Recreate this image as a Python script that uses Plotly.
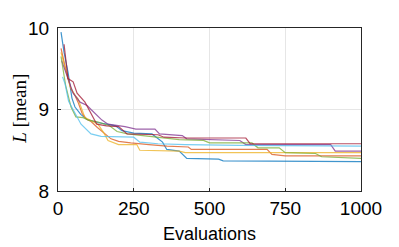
import plotly.graph_objects as go

# Best-so-far mean value per run (polyline vertices)
blue_x = [10, 20, 33, 46, 56, 75, 95, 130, 160, 190, 211, 250, 310, 326, 345, 359, 400, 425, 530, 545, 1000]
blue_y = [9.95, 9.70, 9.46, 9.14, 9.03, 8.94, 8.88, 8.84, 8.82, 8.80, 8.74, 8.71, 8.70, 8.65, 8.60, 8.51, 8.49, 8.40, 8.39, 8.37, 8.36]

orange_x = [10, 25, 43, 55, 66, 80, 95, 110, 130, 155, 175, 200, 240, 300, 360, 430, 440, 690, 706, 750, 1000]
orange_y = [9.75, 9.50, 9.25, 9.18, 9.09, 8.95, 8.88, 8.85, 8.78, 8.70, 8.64, 8.61, 8.59, 8.57, 8.55, 8.54, 8.51, 8.51, 8.45, 8.43, 8.43]

yellow_x = [10, 25, 40, 55, 66, 89, 110, 132, 150, 165, 200, 260, 270, 400, 420, 1000]
yellow_y = [9.70, 9.50, 9.28, 9.18, 9.13, 8.90, 8.86, 8.82, 8.72, 8.62, 8.57, 8.57, 8.50, 8.49, 8.47, 8.47]

purple_x = [12, 30, 50, 73, 96, 109, 122, 145, 165, 200, 221, 257, 320, 335, 410, 425, 600, 620, 900, 915, 1000]
purple_y = [9.60, 9.40, 9.20, 9.09, 9.05, 9.00, 8.95, 8.87, 8.82, 8.80, 8.79, 8.76, 8.76, 8.70, 8.68, 8.64, 8.62, 8.57, 8.57, 8.49, 8.49]

green_x = [10, 25, 43, 59, 83, 100, 130, 170, 195, 230, 280, 330, 400, 480, 500, 640, 660, 730, 750, 850, 870, 1000]
green_y = [9.65, 9.30, 9.03, 8.91, 8.90, 8.87, 8.85, 8.80, 8.73, 8.70, 8.68, 8.66, 8.63, 8.62, 8.59, 8.59, 8.53, 8.53, 8.47, 8.46, 8.42, 8.40]

lightblue_x = [15, 23, 35, 53, 76, 109, 142, 250, 270, 330, 420, 600, 1000]
lightblue_y = [9.40, 9.32, 9.10, 8.97, 8.82, 8.70, 8.67, 8.66, 8.60, 8.58, 8.57, 8.56, 8.55]

red_x = [20, 33, 50, 63, 89, 112, 128, 160, 200, 228, 330, 350, 420, 620, 634, 1000]
red_y = [9.80, 9.38, 9.34, 9.20, 9.09, 8.94, 8.82, 8.80, 8.79, 8.70, 8.69, 8.66, 8.65, 8.65, 8.58, 8.58]

x_ticks = [0, 250, 500, 750, 1000]
y_ticks = [8, 9, 10]

series = [
    (blue_x, blue_y, "#0072BD"),
    (orange_x, orange_y, "#D95319"),
    (yellow_x, yellow_y, "#EDB120"),
    (purple_x, purple_y, "#7E2F8E"),
    (green_x, green_y, "#77AC30"),
    (lightblue_x, lightblue_y, "#4DBEEE"),
    (red_x, red_y, "#A2142F"),
]

fig = go.Figure()
for xs, ys, c in series:
    fig.add_trace(go.Scatter(x=xs, y=ys, mode="lines", line=dict(color=c, width=1.2),
                             opacity=0.75, showlegend=False, hoverinfo="skip"))

axis_common = dict(showline=True, linecolor="#262626", linewidth=1, mirror=True,
                   showgrid=True, gridcolor="#e6e6e6", gridwidth=1, zeroline=False,
                   ticks="inside", ticklen=3, tickcolor="#262626", ticklabeloverflow="allow",
                   tickfont=dict(family="Liberation Sans, Arial", size=19, color="#000000"))

fig.update_xaxes(range=[0, 1000], tickvals=x_ticks, ticktext=[str(v) for v in x_ticks],
                 title=dict(text="Evaluations", font=dict(family="Liberation Sans, Arial", size=18, color="#000"), standoff=9),
                 **axis_common)
fig.update_yaxes(range=[8, 10], tickvals=y_ticks, ticktext=[str(v) for v in y_ticks],
                 ticklabelstandoff=4, **axis_common)

fig.add_annotation(text="<i>L</i> [mean]", xref="paper", yref="paper", x=-0.125, y=0.505,
                   xanchor="center", yanchor="middle", textangle=-90, showarrow=False,
                   font=dict(family="Liberation Serif, Times New Roman", size=19, color="#000"))

fig.update_layout(width=399, height=247, margin=dict(l=50, r=46, t=10, b=64),
                  plot_bgcolor="white", paper_bgcolor="white")

fig.write_html("out.html")
